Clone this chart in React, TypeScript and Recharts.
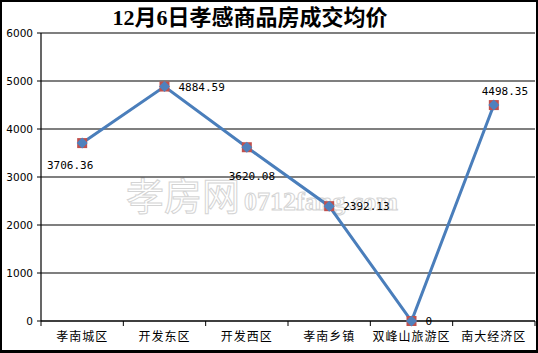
import { LineChart, Line, XAxis, YAxis, CartesianGrid } from "recharts";

const districts = ["孝南城区", "开发东区", "开发西区", "孝南乡镇", "双峰山旅游区", "南大经济区"];
const avgPrices = [3706.36, 4884.59, 3620.08, 2392.13, 0, 4498.35];
const priceTicks = [0, 1000, 2000, 3000, 4000, 5000, 6000];

const data = districts.map((name, i) => ({ name, price: avgPrices[i] }));

// plot area 41..535 wide, six bands
const BW = 494 / 6;

// where each value label sits relative to its point
const LABEL_OFFSET = [
  { dx: -12, dy: 22, anchor: "middle" },
  { dx: 14, dy: 0, anchor: "start" },
  { dx: 5, dy: 29, anchor: "middle" },
  { dx: 14, dy: 0, anchor: "start" },
  { dx: 14, dy: 0, anchor: "start" },
  { dx: 11, dy: -14, anchor: "middle" },
];

const XTick = (props: any) => {
  const { x, y, payload, index } = props;
  return (
    <g>
      <line x1={x - BW / 2} y1={y} x2={x - BW / 2} y2={y + 5} stroke="#000" />
      {index === districts.length - 1 && (
        <line x1={x + BW / 2} y1={y} x2={x + BW / 2} y2={y + 5} stroke="#000" />
      )}
      <text
        x={x}
        y={y + 20}
        textAnchor="middle"
        fontSize={12}
        letterSpacing={1}
        fontFamily="'Noto Sans CJK SC', sans-serif"
        fill="#000"
      >
        {payload.value}
      </text>
    </g>
  );
};

const Marker = (props: any) => {
  const { cx, cy, index } = props;
  return (
    <g key={`m-${index}`}>
      <rect x={cx - 5} y={cy - 5} width={10} height={10} fill="#c0504d" />
      <polygon
        points={`${cx},${cy - 5.5} ${cx + 5.5},${cy} ${cx},${cy + 5.5} ${cx - 5.5},${cy}`}
        fill="#4f81bd"
      />
    </g>
  );
};

const ValueLabel = (props: any) => {
  const { x, y, value, index } = props;
  const o = LABEL_OFFSET[index];
  return (
    <text
      x={x + o.dx}
      y={y + o.dy}
      dy={4}
      textAnchor={o.anchor}
      fontSize={11}
      fontFamily="'DejaVu Sans Mono', monospace"
      fill="#000"
    >
      {value === 0 ? "0" : value.toFixed(2)}
    </text>
  );
};

export default function App() {
  return (
    <div
      style={{
        position: "absolute",
        left: 0,
        top: 0,
        width: 538,
        height: 353,
        background: "#fff",
      }}
    >
      {/* watermark */}
      <div
        style={{
          position: "absolute",
          left: 126,
          top: 170,
          fontSize: 38,
          fontWeight: 400,
          fontFamily: "'Noto Sans CJK SC', sans-serif",
          color: "#fff",
          WebkitTextStroke: "1px #d4d4d4",
          lineHeight: "48px",
          whiteSpace: "nowrap",
        }}
      >
        孝房网
        <span
          style={{
            fontSize: 26,
            fontWeight: 700,
            fontFamily: "'Liberation Serif', serif",
            marginLeft: 4,
          }}
        >
          0712fang.com
        </span>
      </div>

      <div
        style={{
          position: "absolute",
          left: 0,
          top: 4,
          width: 500,
          textAlign: "center",
          fontSize: 22,
          fontWeight: 700,
          fontFamily: "'Liberation Serif', 'Noto Sans CJK SC', serif",
          color: "#000",
          lineHeight: "28px",
        }}
      >
        12月6日孝感商品房成交均价
      </div>

      <div style={{ position: "absolute", left: 0, top: 0 }}>
        <LineChart
          width={538}
          height={353}
          data={data}
          margin={{ top: 33, right: 3, bottom: 0, left: 0 }}
        >
          <CartesianGrid vertical={false} stroke="#000" strokeWidth={1.2} />
          <XAxis
            dataKey="name"
            height={32}
            padding={{ left: BW / 2, right: BW / 2 }}
            axisLine={{ stroke: "#000", strokeWidth: 1.2 }}
            tickLine={false}
            tickSize={0}
            tickMargin={0}
            interval={0}
            tick={<XTick />}
          />
          <YAxis
            width={41}
            domain={[0, 6000]}
            ticks={priceTicks}
            axisLine={{ stroke: "#000", strokeWidth: 1.2 }}
            tickLine={{ stroke: "#000" }}
            tickSize={4}
            tickMargin={4}
            tick={{ fill: "#000", fontSize: 10.5, fontFamily: "'DejaVu Sans', sans-serif" }}
          />
          <Line
            dataKey="price"
            stroke="#4a7ebb"
            strokeWidth={3}
            dot={<Marker />}
            activeDot={false}
            label={<ValueLabel />}
            isAnimationActive={false}
          />
        </LineChart>
      </div>

      <div
        style={{
          position: "absolute",
          left: 0,
          top: 0,
          width: 538,
          height: 353,
          boxSizing: "border-box",
          border: "2px solid #000",
          borderBottomWidth: 3,
          pointerEvents: "none",
        }}
      />
    </div>
  );
}
